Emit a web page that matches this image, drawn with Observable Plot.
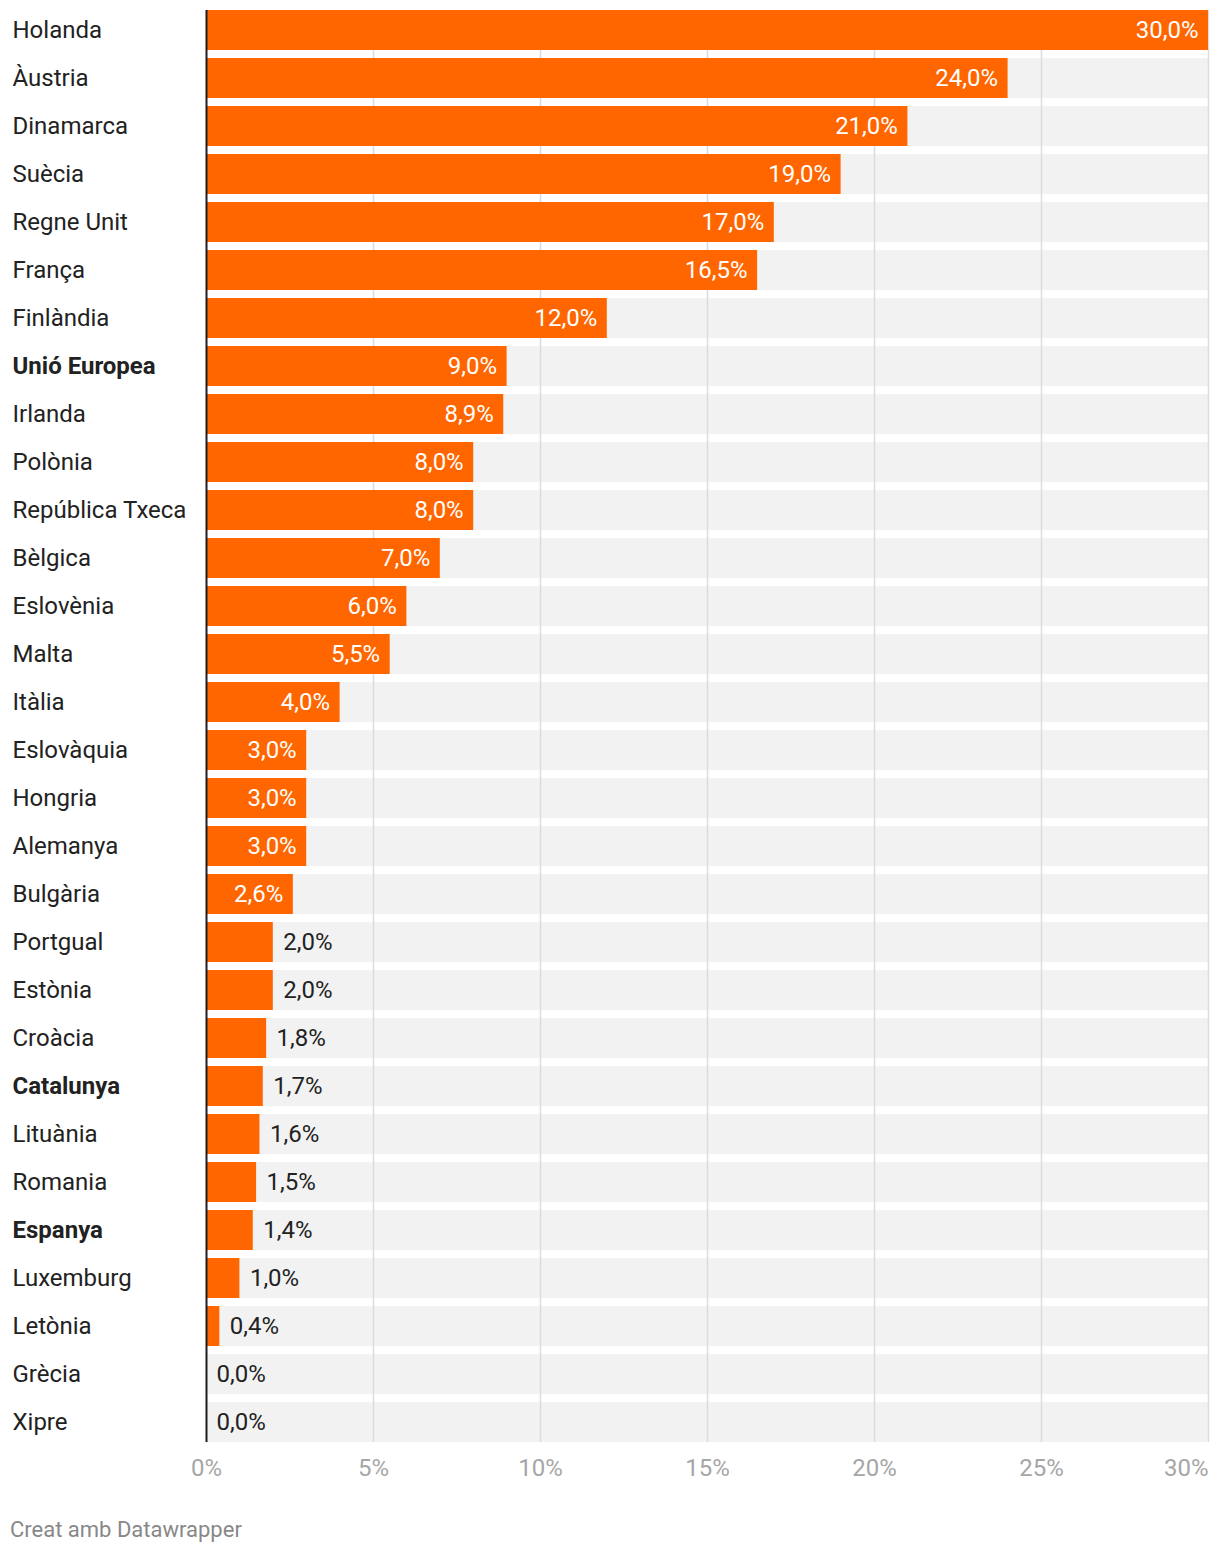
<!DOCTYPE html>
<html>
<head>
<meta charset="utf-8">
<script src="https://cdn.jsdelivr.net/npm/d3@7"></script>
<script src="https://cdn.jsdelivr.net/npm/@observablehq/plot@0.6"></script>
<style>
  body { margin: 0; background: #fff; font-family: Roboto, sans-serif; }
  #footer { font-family: Roboto, sans-serif; font-size: 22px; color: #888; margin: 18px 0 0 10px; line-height: 24px; }
</style>
</head>
<body>
<div id="chart"></div>
<div id="footer">Creat amb Datawrapper</div>
<script>
const countries = ["Holanda","Àustria","Dinamarca","Suècia","Regne Unit","França","Finlàndia","Unió Europea","Irlanda","Polònia","República Txeca","Bèlgica","Eslovènia","Malta","Itàlia","Eslovàquia","Hongria","Alemanya","Bulgària","Portgual","Estònia","Croàcia","Catalunya","Lituània","Romania","Espanya","Luxemburg","Letònia","Grècia","Xipre"];
const values = [30.0,24.0,21.0,19.0,17.0,16.5,12.0,9.0,8.9,8.0,8.0,7.0,6.0,5.5,4.0,3.0,3.0,3.0,2.6,2.0,2.0,1.8,1.7,1.6,1.5,1.4,1.0,0.4,0.0,0.0];
const bold = ["Unió Europea","Catalunya","Espanya"];
const ticks = [0,5,10,15,20,25,30];
const xMax = 30;

const data = countries.map((c, i) => ({country: c, value: values[i]}));
const fmt = v => v.toFixed(1).replace(".", ",") + "%";
const inside = data.filter(d => d.value > 2.3);
const outside = data.filter(d => d.value <= 2.3);

const chart = Plot.plot({
  width: 1220,
  height: 1500,
  marginLeft: 206,
  marginRight: 12,
  marginTop: 6,
  marginBottom: 54,
  style: {fontFamily: "Roboto, sans-serif"},
  x: {domain: [0, xMax], axis: null},
  y: {domain: countries, axis: null, padding: 0},
  marks: [
    Plot.barX(data, {y: "country", x1: 0, x2: xMax, fill: "#f2f2f2", insetTop: 4, insetBottom: 4}),
    Plot.ruleX(ticks.filter(t => t > 0), {stroke: "#dcdcdc", strokeWidth: 1.5, insetTop: 4, insetBottom: 4}),
    Plot.barX(data, {y: "country", x: "value", fill: "#ff6600", insetTop: 4, insetBottom: 4}),
    Plot.ruleX([0], {stroke: "#1d1d1d", strokeWidth: 2, insetTop: 4, insetBottom: 4}),
    Plot.text(inside, {y: "country", x: "value", text: d => fmt(d.value), fill: "#fff", textAnchor: "end", dx: -10, fontSize: 24}),
    Plot.text(outside, {y: "country", x: "value", text: d => fmt(d.value), fill: "#222", textAnchor: "start", dx: 10, fontSize: 24}),
    Plot.text(data.filter(d => !bold.includes(d.country)), {y: "country", text: "country", frameAnchor: "left", dx: -194, textAnchor: "start", fill: "#222", fontSize: 24}),
    Plot.text(data.filter(d => bold.includes(d.country)), {y: "country", text: "country", frameAnchor: "left", dx: -194, textAnchor: "start", fill: "#222", fontSize: 24, fontWeight: "bold"}),
    Plot.text(ticks.filter(t => t < xMax), {x: d => d, text: d => d + "%", frameAnchor: "bottom", lineAnchor: "middle", dy: 22, fill: "#a6a6a6", fontSize: 24, textAnchor: "middle"}),
    Plot.text(ticks.filter(t => t === xMax), {x: d => d, text: d => d + "%", frameAnchor: "bottom", lineAnchor: "middle", dy: 22, fill: "#a6a6a6", fontSize: 24, textAnchor: "end"})
  ]
});
document.getElementById("chart").appendChild(chart);
</script>
</body>
</html>
